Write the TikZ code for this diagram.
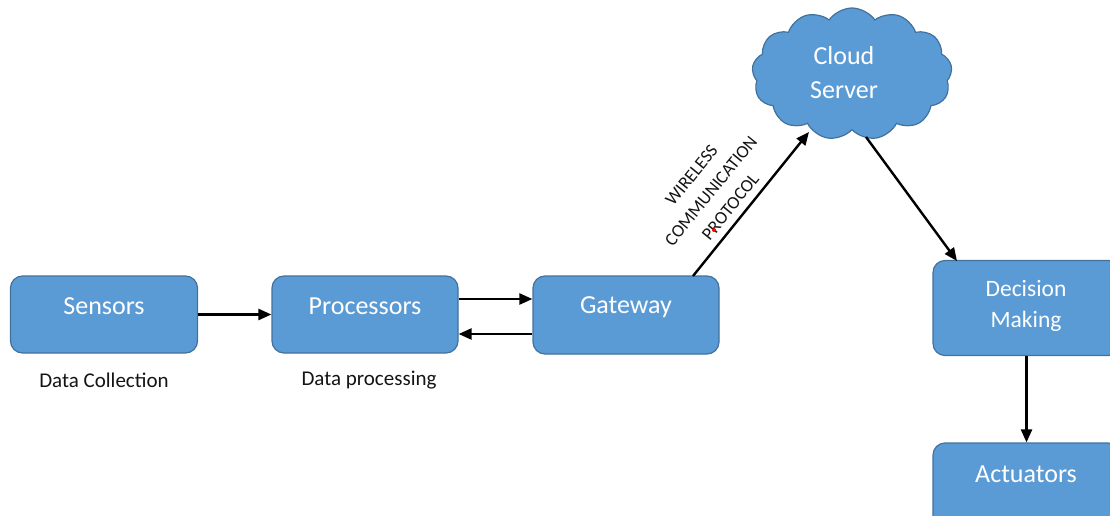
\documentclass[tikz,border=0pt]{standalone}
\usepackage{fontspec}
\setmainfont{Carlito}
\usetikzlibrary{arrows.meta,shapes.symbols}
\definecolor{boxfill}{HTML}{5B9BD5}
\definecolor{boxline}{HTML}{41719C}
\definecolor{labtext}{HTML}{141414}
\begin{document}
\begin{tikzpicture}[x=1pt,y=-1pt,
  blk/.style={draw=boxline,line width=1.2pt,fill=boxfill,rounded corners=12pt,inner sep=0pt},
  blktext/.style={text=white,font=\fontsize{26}{34}\selectfont,align=center,inner sep=0pt},
  captext/.style={text=labtext,font=\fontsize{21}{25}\selectfont},
  conn/.style={line width=2.4pt,-{Triangle[length=13pt,width=11pt]}}]
\useasboundingbox (0,0) rectangle (1110,516);
\clip (0,0) rectangle (1110,516);
\node[blk,minimum width=187pt,minimum height=77pt] (sen) at (104,314.5) {};
\node[blk,minimum width=186pt,minimum height=77pt] (pro) at (365,314.5) {};
\node[blk,minimum width=186pt,minimum height=78pt] (gat) at (626,315) {};
\node[blk,minimum width=187pt,minimum height=95pt] (dec) at (1026.5,308) {};
\node[blk,minimum width=187pt,minimum height=95pt] (act) at (1026.5,490.5) {};
\node[blktext] (sent) at (104,306) {Sensors};
\node[blktext] (prot) at (365,306) {Processors};
\node[blktext] (gatt) at (626,307) {Gateway};
\node[blktext,font=\fontsize{23.5}{31}\selectfont] (dect) at (1026,306) {Decision\\Making};
\node[blktext] (actt) at (1026,474) {Actuators};
\node[draw=boxline,line width=1.2pt,fill=boxfill,cloud,cloud puffs=13,cloud puff arc=110,
  aspect=1.5,minimum width=200pt,minimum height=132pt,inner sep=0pt] (cld) at (852,74) {};
\node[blktext] (cldt) at (844,73) {Cloud\\Server};
\node[captext] (dc) at (104,380) {Data Collection};
\node[captext] (dp) at (369,380) {Data processing};
\node[text=labtext,font=\fontsize{18}{25}\selectfont,align=center,rotate=51,inner sep=0pt] (wcp) at (711,191) {WIRELESS\\COMMUNICATION\\PROTOCOL};
\draw[conn] (sen.east) -- (pro.west);
\draw[conn] ([yshift=15.5pt]pro.east) -- ([yshift=16pt]gat.west);
\draw[conn] ([yshift=-19pt]gat.west) -- ([yshift=-19.5pt]pro.east);
\coordinate (gsrc) at (693,276);
\coordinate (cin) at (809,132);
\coordinate (cout) at (866,137);
\coordinate (din) at (957,261);
\draw[conn] (gsrc) -- (cin);
\draw[conn] (cout) -- (din);
\draw[conn] (dec.south) -- (act.north);
\fill[red] (714,230) circle (2pt);
\end{tikzpicture}
\end{document}
